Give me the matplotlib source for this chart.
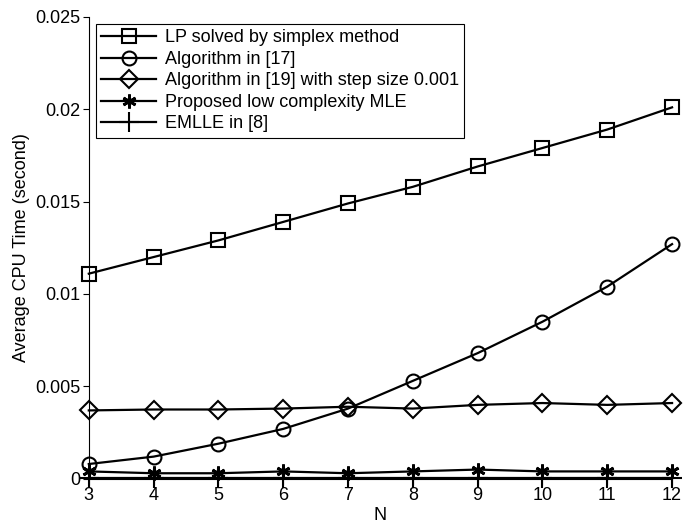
import matplotlib
matplotlib.use("Agg")
import matplotlib.pyplot as plt
from matplotlib.ticker import FuncFormatter

plt.rcParams['font.family'] = ['Liberation Sans', 'DejaVu Sans']

N = [3, 4, 5, 6, 7, 8, 9, 10, 11, 12]

lp_simplex = [0.0111, 0.0120, 0.0129, 0.0139, 0.0149, 0.0158, 0.0169, 0.0179, 0.0189, 0.0201]
alg_17 = [0.0008, 0.0012, 0.0019, 0.0027, 0.0038, 0.0053, 0.0068, 0.0085, 0.0104, 0.0127]
alg_19 = [0.0037, 0.00375, 0.00375, 0.0038, 0.0039, 0.0038, 0.0040, 0.0041, 0.0040, 0.0041]
proposed = [0.0004, 0.0003, 0.0003, 0.0004, 0.0003, 0.0004, 0.0005, 0.0004, 0.0004, 0.0004]
emlle = [0.00003, 0.00003, 0.00003, 0.00003, 0.00003, 0.00003, 0.00003, 0.00003, 0.00003, 0.00003]

labels = ["LP solved by simplex method",
          "Algorithm in [17]",
          "Algorithm in [19] with step size 0.001",
          "Proposed low complexity MLE",
          "EMLLE in [8]"]

fig = plt.figure(figsize=(6.83, 5.25), dpi=100)
ax = fig.add_axes([0.130, 0.088, 0.854, 0.880])

style = dict(color='black', linewidth=1.6, markersize=10, markeredgewidth=1.5,
             markerfacecolor='none', clip_on=False)
ax.plot(N, lp_simplex, marker='s', label=labels[0], **style)
ax.plot(N, alg_17, marker='o', label=labels[1], **style)
ax.plot(N, alg_19, marker='D', label=labels[2], **dict(style, markersize=9))
ax.plot(N, proposed, marker=(6, 2, 0), label=labels[3], **dict(style, markeredgewidth=2))
ax.plot(N, emlle, marker='+', label=labels[4], **dict(style, markersize=14))

ax.set_xlim(3, 12)
ax.set_ylim(0, 0.025)
ax.set_xticks(N)
ax.set_yticks([0, 0.005, 0.01, 0.015, 0.02, 0.025])
ax.yaxis.set_major_formatter(FuncFormatter(lambda v, p: '%g' % v))
ax.spines['top'].set_visible(False)
ax.spines['right'].set_visible(False)
ax.tick_params(direction='out', length=4, labelsize=13, width=0.8, pad=2)
ax.set_xlabel("N", fontsize=13, labelpad=2)
ax.set_ylabel("Average CPU Time (second)", fontsize=13)

leg = ax.legend(loc='upper left', fontsize=13, handlelength=3.0, labelspacing=0.25,
                borderaxespad=0.4, fancybox=False, edgecolor='black', framealpha=1,
                handletextpad=0.5, borderpad=0.3)
leg.get_frame().set_linewidth(0.8)

fig.savefig("out.png", dpi=100)
